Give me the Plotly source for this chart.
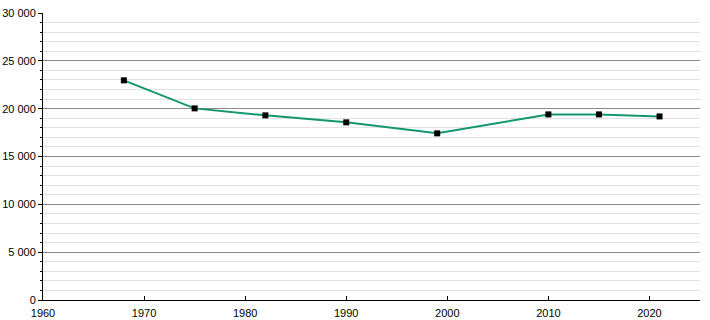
import plotly.graph_objects as go

years = [1968, 1975, 1982, 1990, 1999, 2010, 2015, 2021]
population = [22960, 20030, 19300, 18570, 17420, 19400, 19400, 19190]

fig = go.Figure()
fig.add_trace(go.Scatter(
    x=years, y=population, mode="lines+markers",
    line=dict(color="#14966e", width=2),
    marker=dict(symbol="square", size=6, color="black"),
    hoverinfo="x+y",
))

fig.update_layout(
    width=710, height=320,
    margin=dict(l=43, r=10, t=13, b=20, autoexpand=False),
    paper_bgcolor="white", plot_bgcolor="white",
    showlegend=False,
    separators=". ",
    font=dict(family="Liberation Sans, Arial, sans-serif", size=11, color="black"),
)
fig.update_xaxes(
    range=[1960, 2025], dtick=10, tick0=1960,
    showgrid=False, zeroline=False,
    showline=True, linecolor="black", linewidth=1,
    ticks="inside", ticklen=4, tickcolor="black",
    tickfont=dict(size=11), automargin=False,
    ticklabelstandoff=3,
)
fig.update_yaxes(
    range=[0, 30000], dtick=5000, tick0=0,
    showgrid=True, gridcolor="#8a8a8a", gridwidth=1,
    zeroline=False,
    showline=True, linecolor="black", linewidth=1,
    ticks="outside", ticklen=4, tickcolor="black",
    tickformat=",d",
    tickfont=dict(size=11), automargin=False,
    minor=dict(dtick=1000, showgrid=True, gridcolor="#e2e2e2", gridwidth=1,
               ticks="outside", ticklen=2, tickcolor="black"),
)

fig.write_html("out.html")
